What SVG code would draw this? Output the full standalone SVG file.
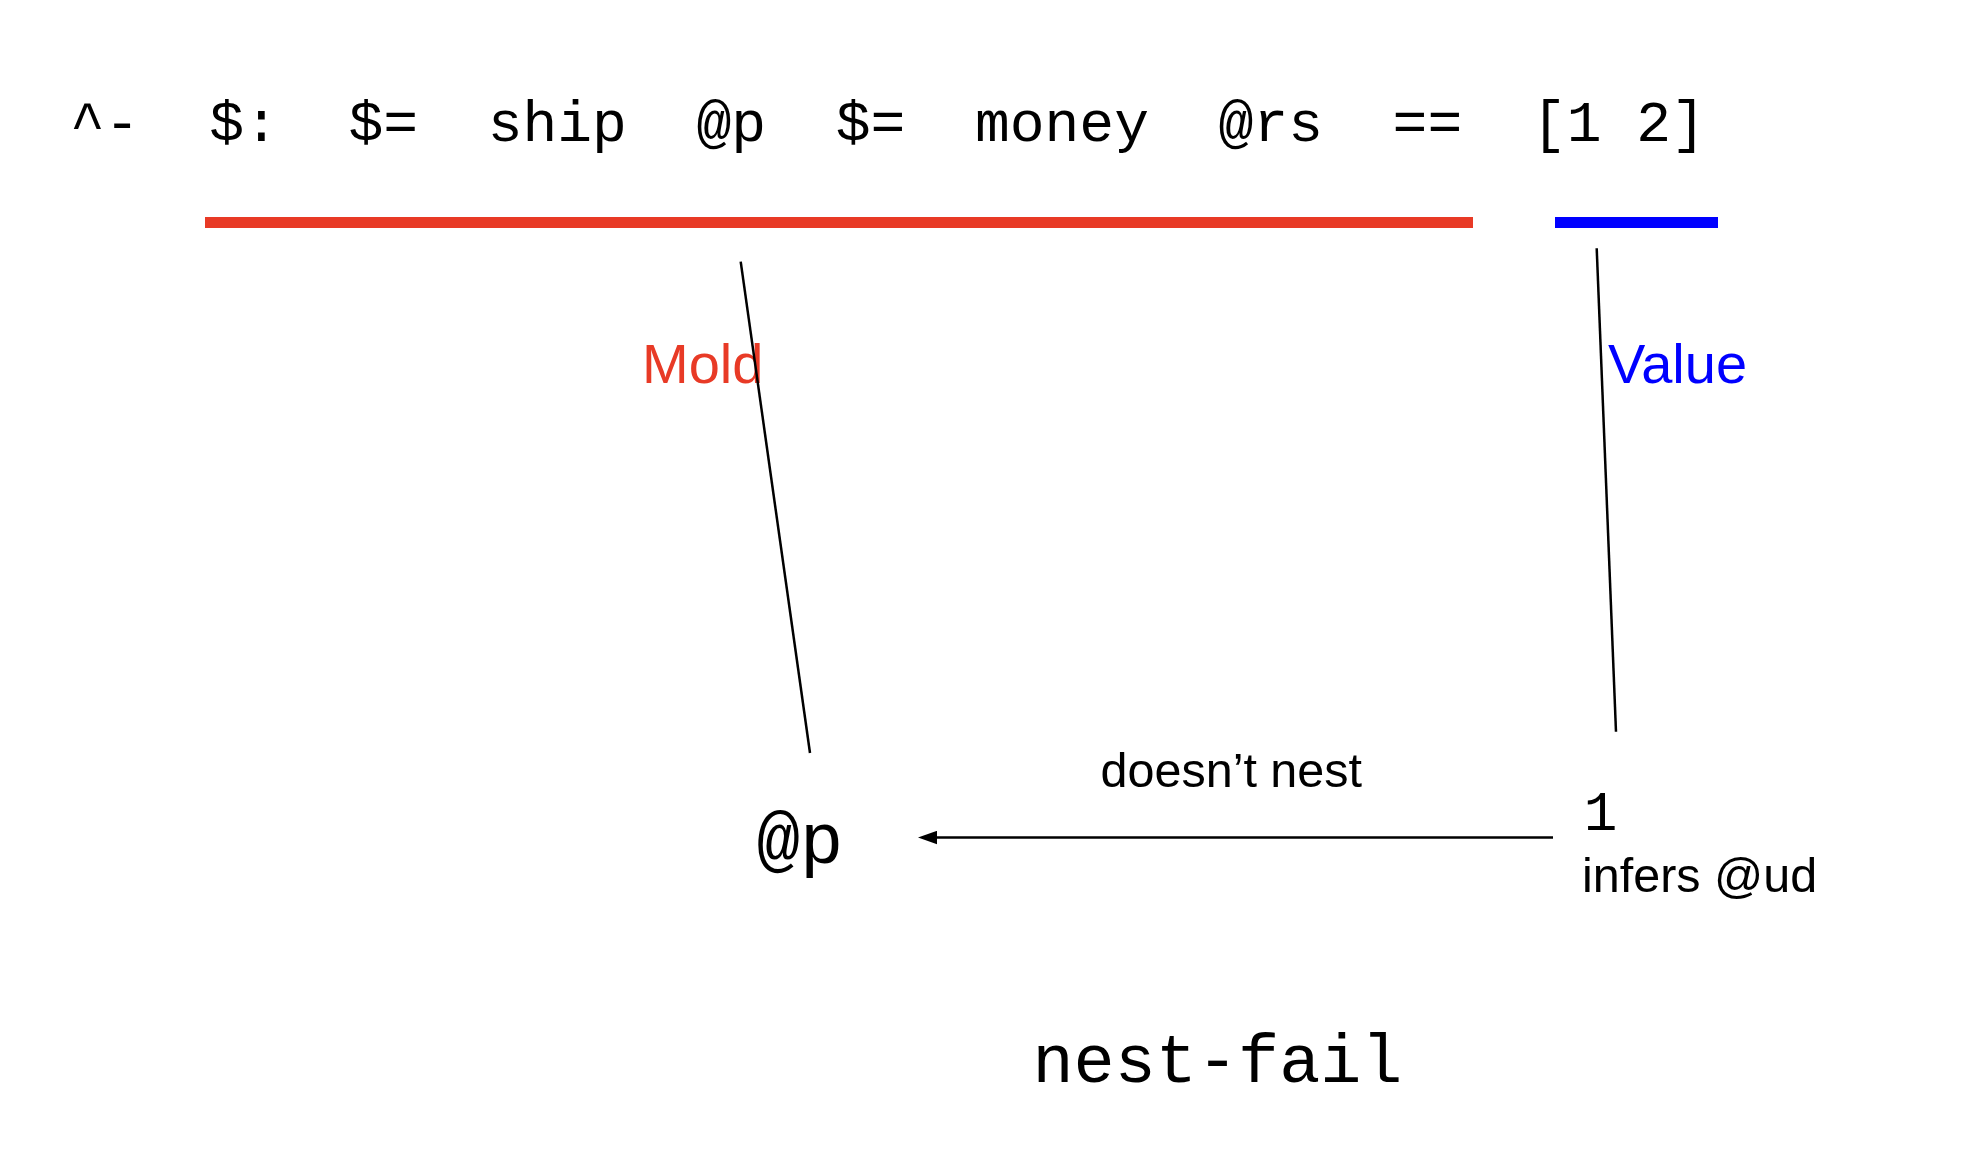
<svg xmlns="http://www.w3.org/2000/svg" width="1962" height="1170" viewBox="0 0 1962 1170">
  <style>
    .code { font-family: "Liberation Mono", "Courier New", monospace; fill: #000; }
    .label { font-family: "Liberation Sans", Arial, Helvetica, sans-serif; }
    .conn { stroke: #000; stroke-width: 2.5; fill: none; }
  </style>
  <defs>
    <marker id="head" markerUnits="userSpaceOnUse" viewBox="0 -7 19 14" markerWidth="19" markerHeight="14" refX="12" refY="0" orient="auto">
      <path d="M0,-6.7 L19,0 L0,6.7 z" fill="#000"/>
    </marker>
  </defs>
  <rect width="1962" height="1170" fill="#fff"/>

  <!-- the expression -->
  <g id="expression">
    <text class="code" x="70" y="141" font-size="58" xml:space="preserve">^-  $:  $=  ship  @p  $=  money  @rs  ==  [1 2]</text>
  </g>

  <!-- mold span -->
  <g id="mold">
    <rect x="205" y="217" width="1268" height="11" fill="#E83A26"/>
    <text class="label" x="642" y="383" font-size="56" fill="#E83A26">Mold</text>
  </g>

  <!-- value span -->
  <g id="value">
    <rect x="1555" y="217" width="163" height="11" fill="#0000FF"/>
    <text class="label" x="1608" y="383" font-size="56" fill="#0000FF">Value</text>
  </g>

  <!-- the mold's face -->
  <g id="face">
    <text class="code" x="800" y="863" font-size="72" text-anchor="middle">@p</text>
  </g>

  <!-- the value's first item -->
  <g id="item">
    <text class="code" x="1600.5" y="830" font-size="56" text-anchor="middle">1</text>
    <text class="label" x="1582" y="892" font-size="48.5">infers @ud</text>
  </g>

  <!-- result -->
  <g id="result">
    <text class="code" x="1217.5" y="1082" font-size="68.5" text-anchor="middle">nest-fail</text>
  </g>

  <!-- connectors -->
  <g id="connectors">
    <line class="conn" x1="740.7" y1="261.7" x2="810" y2="753"/>
    <line class="conn" x1="1596.7" y1="248.3" x2="1616" y2="731.7"/>
    <line class="conn" x1="1553" y1="837.5" x2="925" y2="837.5" marker-end="url(#head)"/>
    <text class="label" x="1100.5" y="786.5" font-size="48.5">doesn’t nest</text>
  </g>
</svg>
